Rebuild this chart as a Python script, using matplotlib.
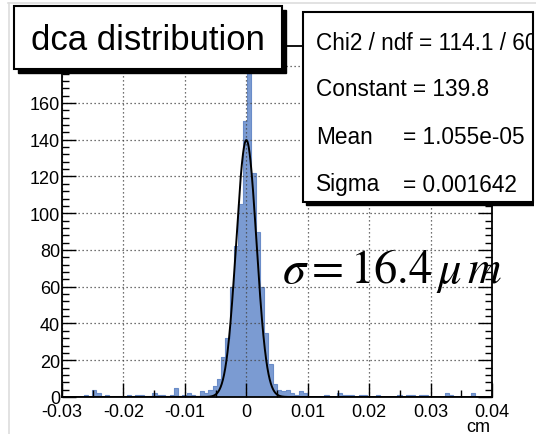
import numpy as np
import matplotlib
matplotlib.use("Agg")
import matplotlib.pyplot as plt
from matplotlib.patches import Rectangle
from matplotlib.lines import Line2D
from matplotlib.ticker import MultipleLocator

plt.rcParams['axes.unicode_minus'] = False
plt.rcParams['font.family'] = ['Liberation Sans', 'DejaVu Sans']
plt.rcParams['mathtext.fontset'] = 'stix'

# ---------------- data ----------------
x_min, x_max, n_bins = -0.03, 0.04, 100
counts = [
    0, 0, 0, 0, 0, 1, 0, 4, 2, 0,
    1, 0, 0, 0, 0, 1, 0, 1, 1, 0,
    0, 2, 1, 1, 0, 1, 5, 0, 1, 2,
    1, 0, 3, 2, 4, 6, 10, 22, 32, 60,
    82, 105, 150, 184, 122, 90, 60, 35, 18, 7,
    4, 3, 4, 2, 1, 3, 2, 0, 0, 0,
    0, 1, 0, 0, 2, 1, 1, 1, 0, 1,
    1, 0, 0, 1, 0, 0, 0, 0, 1, 0,
    1, 1, 0, 1, 1, 0, 0, 0, 0, 2,
    1, 0, 0, 0, 0, 2, 0, 0, 0, 0,
]
fit_constant = 139.8
fit_mean = 1.055e-05
fit_sigma = 0.001642
title = "dca distribution"
stats_lines = [("Chi2 / ndf = 114.1 / 60", None),
               ("Constant = 139.8", None),
               ("Mean", "= 1.055e-05"),
               ("Sigma", "= 0.001642")]
x_ticks = [-0.03, -0.02, -0.01, 0, 0.01, 0.02, 0.03, 0.04]
x_tick_labels = ["-0.03", "-0.02", "-0.01", "0", "0.01", "0.02", "0.03", "0.04"]
y_ticks = [0, 20, 40, 60, 80, 100, 120, 140, 160, 180]
y_max = 191
x_title = "cm"
annotation = r"$\sigma = 16.4\,\mu\, m$"

# ---------------- figure ----------------
W, H = 536, 435
fig = plt.figure(figsize=(W / 100, H / 100), dpi=100)
fig.patch.set_facecolor("white")

def fx(px):
    return px / W

def fy(py):
    return 1 - py / H

ax_l, ax_r, ax_t, ax_b = 62, 492, 47, 398
ax = fig.add_axes([fx(ax_l), fy(ax_b), fx(ax_r) - fx(ax_l), fy(ax_t) - fy(ax_b)])

edges = np.linspace(x_min, x_max, n_bins + 1)
ax.stairs(counts, edges, fill=True, color="#7b9bd2", zorder=2)
ax.stairs(counts, edges, fill=False, color="#6a8cc8", lw=0.8, zorder=2)

xs = np.linspace(x_min, x_max, 1500)
ax.plot(xs, fit_constant * np.exp(-0.5 * ((xs - fit_mean) / fit_sigma) ** 2),
        color="black", lw=1.4, zorder=3)

ax.set_xlim(x_min, x_max)
ax.set_ylim(0, y_max)
ax.set_xticks(x_ticks)
ax.set_xticklabels(x_tick_labels)
ax.set_yticks(y_ticks)
ax.xaxis.set_minor_locator(MultipleLocator(0.005))
ax.yaxis.set_minor_locator(MultipleLocator(4))
ax.tick_params(axis="both", which="major", direction="in", length=10, width=1.0,
               labelsize=13, right=True, top=True)
ax.tick_params(axis="both", which="minor", direction="in", length=5, width=1.0,
               right=True, top=True)
ax.tick_params(axis="x", which="major", pad=4)
ax.tick_params(axis="y", which="major", pad=1.5)
ax.grid(True, which="major", color="#444444", linestyle=(0, (1, 2.2)), lw=0.9, zorder=1)
ax.set_axisbelow(False)
for s in ax.spines.values():
    s.set_linewidth(1.3)
    s.set_zorder(4)

fig.text(fx(490), fy(428), x_title, ha="right", va="center", fontsize=13)

# canvas border lines
fig.add_artist(Line2D([fx(8), 1], [fy(4), fy(4)], color="#dddddd", lw=1.2))
fig.add_artist(Line2D([fx(9), fx(9)], [fy(4), 0], color="#dddddd", lw=1.2))

# title box
tl, tr, tt, tb = 14, 282, 7, 70
fig.add_artist(Rectangle((fx(tl + 4), fy(tb + 4)), fx(tr) - fx(tl), fy(tt) - fy(tb),
                         transform=fig.transFigure, facecolor="black", edgecolor="black",
                         zorder=5))
fig.add_artist(Rectangle((fx(tl), fy(tb)), fx(tr) - fx(tl), fy(tt) - fy(tb),
                         transform=fig.transFigure, facecolor="white", edgecolor="black",
                         lw=1.5, zorder=6))
fig.text(fx((tl + tr) / 2), fy(41), title, ha="center", va="center", fontsize=25, zorder=7)

# stats box
sl, sr, st, sb = 303, 533, 13, 203
fig.add_artist(Rectangle((fx(sl + 3), fy(sb + 3)), fx(sr) - fx(sl), fy(st) - fy(sb),
                         transform=fig.transFigure, facecolor="black", edgecolor="black",
                         zorder=5, clip_on=False))
# white mask beyond right pad edge
fig.add_artist(Rectangle((fx(sr + 1), fy(sb + 6)), 1, fy(st) - fy(sb + 6),
                         transform=fig.transFigure, facecolor="white", edgecolor="none",
                         zorder=5.5))
box = Rectangle((fx(sl), fy(sb)), fx(sr) - fx(sl), fy(st) - fy(sb),
                transform=fig.transFigure, facecolor="white", edgecolor="black",
                lw=1.5, zorder=6)
fig.add_artist(box)
row_y = [43, 90, 137, 185]
for (left, right), yy in zip(stats_lines, row_y):
    t = fig.text(fx(316), fy(yy), left, ha="left", va="center", fontsize=16.3, zorder=7)
    t.set_clip_path(box)
    if right is not None:
        t2 = fig.text(fx(403), fy(yy), right, ha="left", va="center", fontsize=16.3, zorder=7)
        t2.set_clip_path(box)

# sigma annotation
fig.text(fx(282), fy(283), annotation, ha="left", va="baseline", fontsize=33.5, zorder=7)

fig.savefig("out.png", dpi=100)
